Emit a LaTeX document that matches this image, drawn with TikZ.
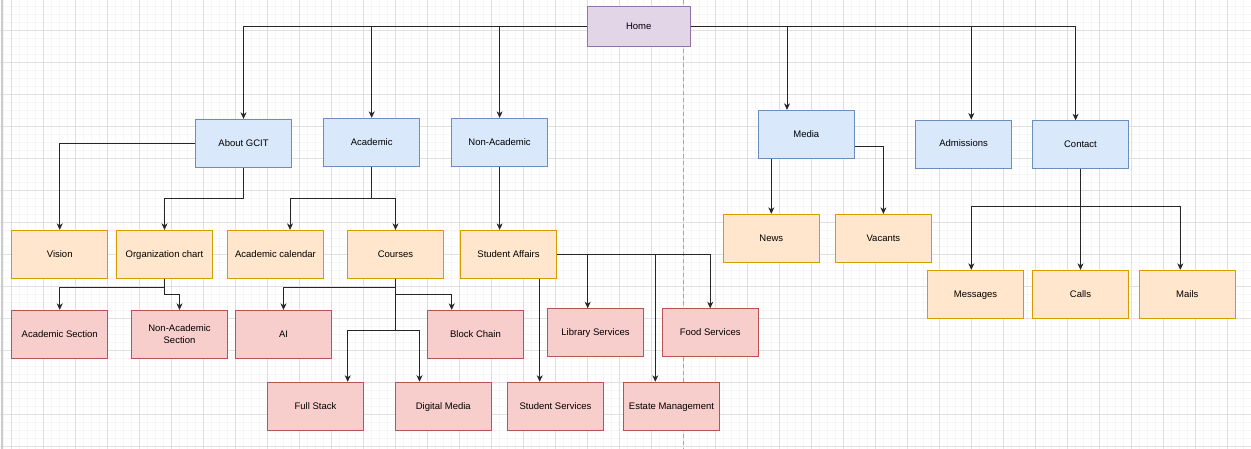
\documentclass[tikz,border=0pt]{standalone}
\usepackage{fontspec}
\setmainfont{Liberation Sans}
\usetikzlibrary{arrows.meta,calc}
\definecolor{purplefill}{HTML}{E1D5E7}
\definecolor{purpleline}{HTML}{9673A6}
\definecolor{bluefill}{HTML}{DAE8FC}
\definecolor{blueline}{HTML}{6C8EBF}
\definecolor{orangefill}{HTML}{FFE6CC}
\definecolor{orangeline}{HTML}{D79B00}
\definecolor{redfill}{HTML}{F8CECC}
\definecolor{redline}{HTML}{B85450}
\definecolor{gridminor}{HTML}{F6F6F6}
\definecolor{gridmajor}{HTML}{E0E0E0}
\tikzset{
  box/.style={rectangle, minimum width=96.3pt, minimum height=48pt, inner sep=1pt,
    line width=0.9pt, align=center, font=\fontsize{9.5}{11.5}\selectfont, text=black,
    text height=7.5pt, text depth=1.5pt},
  homebox/.style={box, fill=purplefill, draw=purpleline, minimum width=102.7pt, minimum height=40.3pt},
  bluebox/.style={box, fill=bluefill, draw=blueline},
  orangebox/.style={box, fill=orangefill, draw=orangeline},
  redbox/.style={box, fill=redfill, draw=redline},
  edge/.style={draw=black!85, line width=0.8pt, -{Stealth[length=6.5pt,width=6pt,inset=2pt]}},
  minorline/.style={draw=gridminor, line width=0.6pt},
  majorline/.style={draw=gridmajor, line width=0.7pt},
  pagebreak/.style={draw=black!35, line width=0.7pt, dash pattern=on 4pt off 3pt},
}
\begin{document}
\begin{tikzpicture}[x=1pt,y=-1pt]
\useasboundingbox (0,0) rectangle (1251,449);
\fill[white] (0,0) rectangle (1251,449);
% grid
\foreach \i in {0,...,156} {\draw[minorline] ({3.3+8*\i},0) -- ({3.3+8*\i},449);}
\foreach \i in {0,...,56} {\draw[minorline] (0,{6.3+8*\i}) -- (1251,{6.3+8*\i});}
\foreach \i in {0,...,38} {\draw[majorline] ({11.3+32*\i},0) -- ({11.3+32*\i},449);}
\foreach \i in {0,...,13} {\draw[majorline] (0,{30.3+32*\i}) -- (1251,{30.3+32*\i});}
\draw[draw=black!20, line width=2pt] (1.5,0) -- (1.5,449);
\draw[pagebreak] (683.7,0) -- (683.7,449);

% nodes
\node[homebox] (home) at (638.7,26.2) {Home};

\node[bluebox] (about) at (243.5,143.3) {About GCIT};
\node[bluebox] (acad) at (371.7,142.3) {Academic};
\node[bluebox] (nonacad) at (499.6,142.3) {Non-Academic};
\node[bluebox] (media) at (806.3,134.3) {Media};
\node[bluebox] (adm) at (963.6,144) {Admissions};
\node[bluebox] (contact) at (1080.5,144.7) {Contact};

\node[orangebox] (vision) at (59.7,254.3) {Vision};
\node[orangebox] (org) at (164.5,254.3) {Organization chart};
\node[orangebox] (cal) at (275.5,254.3) {Academic calendar};
\node[orangebox] (courses) at (395.5,254.3) {Courses};
\node[orangebox] (sa) at (508.5,254.3) {Student Affairs};
\node[orangebox] (news) at (771.3,238.3) {News};
\node[orangebox] (vac) at (883.4,238.3) {Vacants};
\node[orangebox] (msg) at (975.5,294.3) {Messages};
\node[orangebox] (calls) at (1080.5,294.3) {Calls};
\node[orangebox] (mails) at (1187.3,294.3) {Mails};

\node[redbox] (asec) at (59.7,334.3) {Academic Section};
\node[redbox, text height={}, text depth={}] (nasec) at (179.5,334.3) {Non-Academic\\Section};
\node[redbox] (ai) at (283.5,334.3) {AI};
\node[redbox] (block) at (475.5,334.3) {Block Chain};
\node[redbox] (lib) at (595.5,332.7) {Library Services};
\node[redbox] (food) at (710.2,332.7) {Food Services};
\node[redbox] (fs) at (315.5,406.2) {Full Stack};
\node[redbox] (dm) at (443.3,406.2) {Digital Media};
\node[redbox] (ss) at (555.5,406.2) {Student Services};
\node[redbox] (estate) at (671.5,406.2) {Estate Management};

% connectors from Home
\draw[edge] (home.west) -| (about.north);
\draw[edge] (home.west) -| (acad.north);
\draw[edge] (home.west) -| (nonacad.north);
\draw[edge] (home.east) -| ($(media.north)+(-19.3,0)$);
\draw[edge] (home.east) -| ($(adm.north)+(7.7,0)$);
\draw[edge] (home.east) -| ($(contact.north)+(-4.9,0)$);

% About GCIT
\draw[edge] (about.west) -| (vision.north);
\draw[edge] (about.south) -- ++(0,31) -| (org.north);

% Academic
\draw[edge] (acad.south) -- ++(0,31.7) -| ($(cal.north)+(14.5,0)$);
\draw[edge] (acad.south) -- ++(0,31.7) -| (courses.north);

% Non-Academic
\draw[edge] (nonacad.south) -- (nonacad.south |- sa.north);

% Organization chart
\draw[edge] (org.south) -- ++(0,8.4) -| (asec.north);
\draw[edge] (org.south) -- ++(0,15.7) -| (nasec.north);

% Courses
\draw[edge] (courses.south) -- ++(0,8.4) -| (ai.north);
\draw[edge] (courses.south) -- ++(0,16) -| ($(block.north)+(-23.8,0)$);
\draw[edge] (courses.south) -- ++(0,52) -| ($(fs.north)+(32.2,0)$);
\draw[edge] (courses.south) -- ++(0,52) -| ($(dm.north)+(-23.8,0)$);

% Student Affairs
\coordinate (sadrop) at ($(sa.south)+(31.2,0)$);
\draw[edge] (sadrop) -- (sadrop |- ss.north);
\draw[edge] (sa.east) -| ($(lib.north)+(-7.8,0)$);
\draw[edge] (sa.east) -| ($(estate.north)+(-16.2,0)$);
\draw[edge] (sa.east) -| (food.north);

% Media
\draw[edge] (media.south -| news.north) -- (news.north);
\draw[edge] ($(media.east)+(0,12.4)$) -| (vac.north);

% Contact
\draw[edge] (contact.south) -- (calls.north);
\draw[edge] (contact.south) -- ++(0,37.6) -| ($(msg.north)+(-4.2,0)$);
\draw[edge] (contact.south) -- ++(0,37.6) -| ($(mails.north)+(-7,0)$);
\end{tikzpicture}
\end{document}
